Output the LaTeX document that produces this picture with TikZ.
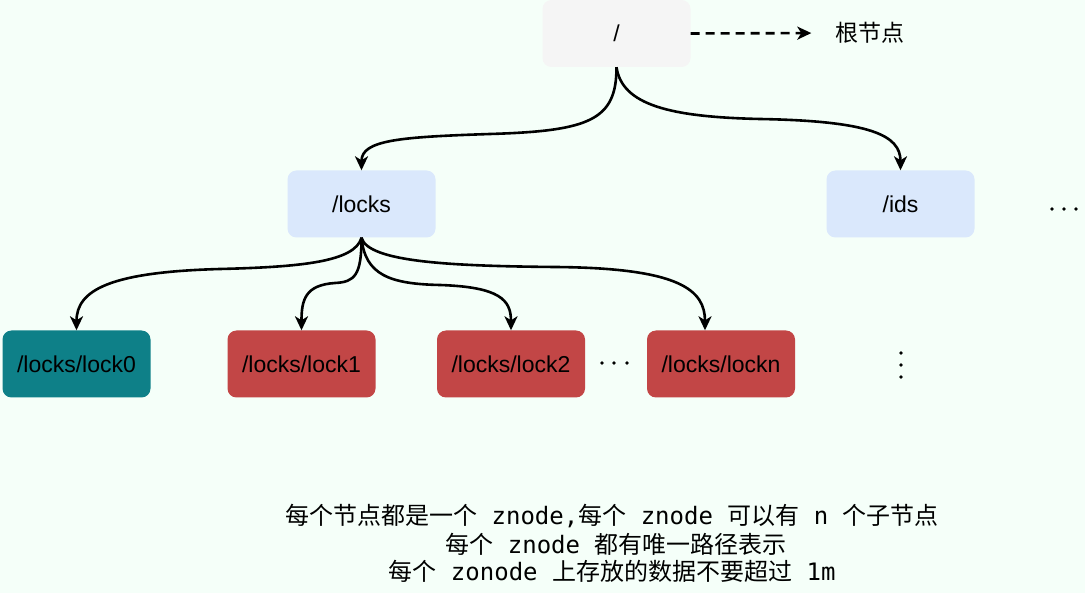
\documentclass[tikz,border=0pt]{standalone}
\usepackage{fontspec}
\setmainfont{Liberation Sans}
\newfontfamily\cjkf{Noto Sans CJK SC}
\newfontfamily\monof{DejaVu Sans Mono}
\usetikzlibrary{arrows.meta}
\definecolor{bgc}{HTML}{F5FFF9}
\definecolor{rootc}{HTML}{F5F5F5}
\definecolor{bluec}{HTML}{DAE8FC}
\definecolor{tealc}{HTML}{0E8088}
\definecolor{redc}{HTML}{C24646}
\tikzset{
  box/.style={rounded corners=9pt, minimum width=148pt, minimum height=67pt, inner sep=0pt,
    font=\fontsize{23}{27}\selectfont, text=black},
  edge/.style={line width=2.6pt, -{Stealth[length=14pt,width=13pt,inset=4pt]}},
  dasharrow/.style={line width=2.6pt, dash pattern=on 9pt off 6pt, -{Stealth[length=14pt,width=13pt,inset=4pt]}},
  txt/.style={inner sep=0pt, font=\fontsize{24}{28}\monof},
  dot/.style={fill=black}
}
\begin{document}
\begin{tikzpicture}[x=1pt,y=-1pt]
\fill[bgc] (0,0) rectangle (1085,593);
\useasboundingbox (0,0) rectangle (1085,593);

\node[box, fill=rootc] (root) at (616.5,33.5) {/};
\node[inner sep=0pt, font=\fontsize{23}{27}\cjkf] (lbl) at (870,33) {根节点};
\draw[dasharrow, shorten >=24pt] (root.east) -- (lbl.west);

\node[box, fill=bluec] (locks) at (361.5,204) {/locks};
\node[box, fill=bluec] (ids) at (900.5,204) {/ids};

\node[box, fill=tealc] (lock0) at (76.5,364) {/locks/lock0};
\node[box, fill=redc] (lock1) at (301.5,364) {/locks/lock1};
\node[box, fill=redc] (lock2) at (511,364) {/locks/lock2};
\node[box, fill=redc] (lockn) at (721,364) {/locks/lockn};

\draw[edge] (root.south) .. controls (616.5,120) and (590,131) .. (490,134)
  .. controls (400,137) and (361.5,140) .. (locks.north);
\draw[edge] (root.south) .. controls (622,105) and (670,117) .. (760,119)
  .. controls (870,121) and (900.5,135) .. (ids.north);

\draw[edge] (locks.south) .. controls (355,262) and (300,267) .. (220,269)
  .. controls (110,272) and (76.5,290) .. (lock0.north);
\draw[edge] (locks.south) .. controls (361.5,275) and (355,282) .. (335,283)
  .. controls (305,285) and (301.5,300) .. (lock1.north);
\draw[edge] (locks.south) .. controls (365,275) and (390,284) .. (440,285)
  .. controls (500,287) and (511,300) .. (lock2.north);
\draw[edge] (locks.south) .. controls (368,262) and (450,266) .. (555,267)
  .. controls (680,268) and (705,290) .. ([xshift=-16pt]lockn.north);

% ellipses
\fill[dot] (1052,209) circle (1.9pt) (1064,209) circle (1.9pt) (1076,209) circle (1.9pt);
\fill[dot] (602,363) circle (1.9pt) (614,363) circle (1.9pt) (627,363) circle (1.9pt);
\fill[dot] (901,353) circle (1.9pt) (901,365) circle (1.9pt) (901,377) circle (1.9pt);

\node[txt] (t1) at (612,516) {{\cjkf 每个节点都是一个} znode,{\cjkf 每个} znode {\cjkf 可以有} n {\cjkf 个子节点}};
\node[txt] (t2) at (616,544) {{\cjkf 每个} znode {\cjkf 都有唯一路径表示}};
\node[txt] (t3) at (612,571) {{\cjkf 每个} zonode {\cjkf 上存放的数据不要超过} 1m};
\end{tikzpicture}
\end{document}
